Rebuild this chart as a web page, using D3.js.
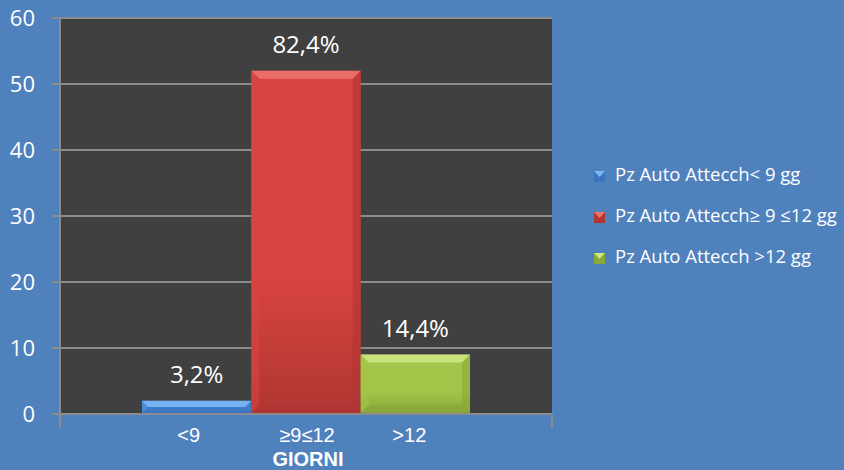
<!DOCTYPE html>
<html><head><meta charset="utf-8">
<script src="https://cdn.jsdelivr.net/npm/d3@7"></script>
<style>body{margin:0;background:#4f81bd;}svg{display:block;font-family:"Open Sans",Lato,sans-serif;}</style>
</head><body>
<svg id="c" width="844" height="470"></svg>
<script>
const series = ["Pz Auto Attecch< 9 gg","Pz Auto Attecch≥ 9 ≤12 gg","Pz Auto Attecch >12 gg"];
const values = [2, 52, 9];
const valueLabels = ["3,2%","82,4%","14,4%"];
const barLabels = ["<9","≥9≤12",">12"];
const category = "GIORNI";
const yTicks = [0,10,20,30,40,50,60];
const colors = [
  {main:"#4a8fe0", light:"#7db8f5", dark:"#3a74bd"},
  {main:"#d8443f", light:"#ef7470", dark:"#b03633"},
  {main:"#a3c64a", light:"#cfe685", dark:"#88a83a"}
];

const svg = d3.select("#c");
const L=60, R=552, T=18, B=414;
const y = d3.scaleLinear().domain([0,60]).range([B,T]);
const groupW = 328;
const x1 = d3.scaleBand().domain(d3.range(series.length)).range([0,groupW]);
const gx = (L+R)/2 - groupW/2;

svg.append("rect").attr("x",0).attr("y",0).attr("width",844).attr("height",470).attr("fill","#4f81bd");
svg.append("rect").attr("x",L).attr("y",T).attr("width",R-L).attr("height",B-T).attr("fill","#404040");

svg.append("g").selectAll("line").data(yTicks).join("line")
  .attr("x1",L-8).attr("x2",R).attr("y1",d=>y(d)).attr("y2",d=>y(d))
  .attr("stroke","#8c8c8c").attr("stroke-width",2);
svg.append("line").attr("x1",L).attr("x2",L).attr("y1",T).attr("y2",B).attr("stroke","#8c8c8c").attr("stroke-width",2);
svg.append("g").selectAll("line").data([L,R]).join("line")
  .attr("x1",d=>d).attr("x2",d=>d).attr("y1",B).attr("y2",B+14)
  .attr("stroke","#8c8c8c").attr("stroke-width",2);

svg.append("g").selectAll("text").data(yTicks).join("text")
  .attr("x",35).attr("y",d=>y(d)+8).attr("text-anchor","end")
  .attr("fill","#fff").attr("font-size",22).text(d=>d);

const defs = svg.append("defs");
colors.forEach((c,i)=>{
  const g = defs.append("linearGradient").attr("id","g"+i).attr("x1",0).attr("x2",0).attr("y1",0).attr("y2",1);
  g.append("stop").attr("offset","0%").attr("stop-color",c.main);
  g.append("stop").attr("offset","60%").attr("stop-color",c.main);
  g.append("stop").attr("offset","100%").attr("stop-color",c.dark);
});

const labelOffsets = [-8, 1, -6];
const bars = svg.append("g");
values.forEach((v,i)=>{
  const bx = gx + x1(i), bw = x1.bandwidth();
  const top = y(v), bot = y(0)-1, h = bot-top;
  const bev = Math.min(8, h/2);
  const c = colors[i];
  bars.append("rect").attr("x",bx).attr("y",top).attr("width",bw).attr("height",h).attr("fill",`url(#g${i})`);
  bars.append("path").attr("d",`M${bx},${top}L${bx+bw},${top}L${bx+bw-bev},${top+bev}L${bx+bev},${top+bev}Z`).attr("fill",c.light).attr("opacity",0.85);
  bars.append("path").attr("d",`M${bx},${top}L${bx+bev},${top+bev}L${bx+bev},${bot-bev}L${bx},${bot}Z`).attr("fill",c.main).attr("opacity",0.6);
  bars.append("path").attr("d",`M${bx+bw},${top}L${bx+bw-bev},${top+bev}L${bx+bw-bev},${bot-bev}L${bx+bw},${bot}Z`).attr("fill",c.dark).attr("opacity",0.6);
  bars.append("path").attr("d",`M${bx},${bot}L${bx+bev},${bot-bev}L${bx+bw-bev},${bot-bev}L${bx+bw},${bot}Z`).attr("fill",c.dark).attr("opacity",0.7);
  svg.append("text").attr("x",bx+bw/2).attr("y",top-18).attr("text-anchor","middle")
    .attr("fill","#fff").attr("font-size",24).text(valueLabels[i]);
  svg.append("text").attr("x",bx+bw/2+labelOffsets[i]).attr("y",442).attr("text-anchor","middle")
    .attr("fill","#fff").attr("font-size",20).attr("font-family","Liberation Sans, Arial, sans-serif").text(barLabels[i]);
});

svg.append("text").attr("x",(L+R)/2+2).attr("y",466).attr("text-anchor","middle")
  .attr("fill","#fff").attr("font-size",20).attr("font-weight","bold").attr("font-family","Liberation Sans, Arial, sans-serif").text(category);

const lg = svg.append("g");
series.forEach((s,i)=>{
  const ly = 175 + i*41;
  const c = colors[i];
  lg.append("rect").attr("x",594).attr("y",ly-4).attr("width",11).attr("height",11).attr("fill",c.dark);
  lg.append("path").attr("d",`M${594},${ly-4}L${605},${ly-4}L${599.5},${ly+2}Z`).attr("fill",c.light);
  lg.append("text").attr("x",615).attr("y",ly+6).attr("fill","#fff").attr("font-size",18.5).text(s);
});
</script>
</body></html>
